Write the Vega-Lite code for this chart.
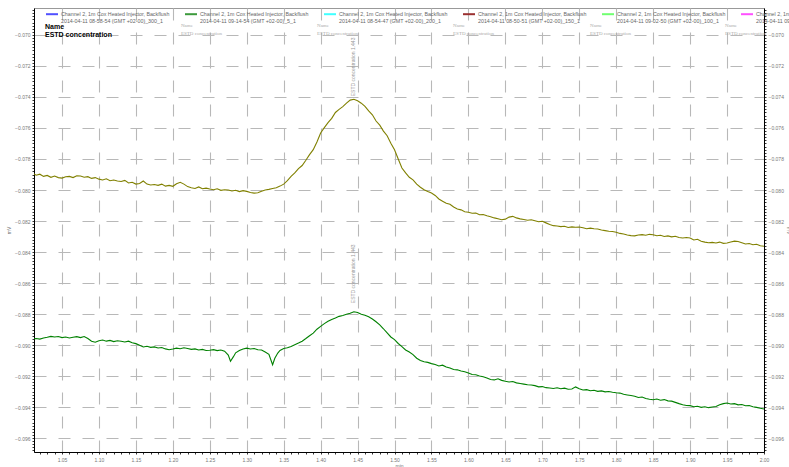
{
  "$schema": "https://vega.github.io/schema/vega-lite/v6.json",
  "width": 730,
  "height": 444,
  "autosize": {"type": "none"},
  "padding": {"left": 34, "top": 8, "right": 25, "bottom": 15},
  "background": "white",
  "config": {
    "view": {"stroke": "#999", "strokeWidth": 1},
    "font": "Liberation Sans",
    "axis": {
      "domainColor": "black",
      "domainWidth": 1,
      "tickColor": "black",
      "tickSize": 2,
      "tickWidth": 0.8,
      "labelFontSize": 5,
      "labelColor": "#777",
      "labelFont": "Liberation Sans",
      "titleFontSize": 5,
      "titleColor": "#777",
      "titleFontWeight": "normal",
      "gridColor": "#b8b8b8",
      "gridDash": [12, 12],
      "gridWidth": 1.1,
      "labelOverlap": false,
      "labelFlush": false
    }
  },
  "datasets": {
    "series": [
      {"t":1.010,"v":-0.07890,"s":"u"},{"t":1.015,"v":-0.07905,"s":"u"},{"t":1.020,"v":-0.07898,"s":"u"},{"t":1.025,"v":-0.07912,"s":"u"},{"t":1.030,"v":-0.07906,"s":"u"},{"t":1.035,"v":-0.07918,"s":"u"},{"t":1.040,"v":-0.07910,"s":"u"},{"t":1.045,"v":-0.07920,"s":"u"},{"t":1.050,"v":-0.07923,"s":"u"},{"t":1.055,"v":-0.07915,"s":"u"},{"t":1.060,"v":-0.07912,"s":"u"},{"t":1.065,"v":-0.07920,"s":"u"},{"t":1.070,"v":-0.07908,"s":"u"},{"t":1.075,"v":-0.07910,"s":"u"},{"t":1.080,"v":-0.07918,"s":"u"},{"t":1.085,"v":-0.07914,"s":"u"},{"t":1.090,"v":-0.07925,"s":"u"},{"t":1.095,"v":-0.07920,"s":"u"},{"t":1.100,"v":-0.07930,"s":"u"},{"t":1.105,"v":-0.07935,"s":"u"},{"t":1.110,"v":-0.07928,"s":"u"},{"t":1.115,"v":-0.07940,"s":"u"},{"t":1.120,"v":-0.07936,"s":"u"},{"t":1.125,"v":-0.07942,"s":"u"},{"t":1.130,"v":-0.07945,"s":"u"},{"t":1.135,"v":-0.07938,"s":"u"},{"t":1.140,"v":-0.07955,"s":"u"},{"t":1.145,"v":-0.07950,"s":"u"},{"t":1.150,"v":-0.07962,"s":"u"},{"t":1.155,"v":-0.07958,"s":"u"},{"t":1.160,"v":-0.07942,"s":"u"},{"t":1.165,"v":-0.07962,"s":"u"},{"t":1.170,"v":-0.07968,"s":"u"},{"t":1.175,"v":-0.07965,"s":"u"},{"t":1.180,"v":-0.07970,"s":"u"},{"t":1.185,"v":-0.07962,"s":"u"},{"t":1.190,"v":-0.07975,"s":"u"},{"t":1.195,"v":-0.07970,"s":"u"},{"t":1.200,"v":-0.07976,"s":"u"},{"t":1.205,"v":-0.07960,"s":"u"},{"t":1.210,"v":-0.07950,"s":"u"},{"t":1.215,"v":-0.07962,"s":"u"},{"t":1.220,"v":-0.07978,"s":"u"},{"t":1.225,"v":-0.07985,"s":"u"},{"t":1.230,"v":-0.07990,"s":"u"},{"t":1.235,"v":-0.07980,"s":"u"},{"t":1.240,"v":-0.07992,"s":"u"},{"t":1.245,"v":-0.07988,"s":"u"},{"t":1.250,"v":-0.07994,"s":"u"},{"t":1.255,"v":-0.07998,"s":"u"},{"t":1.260,"v":-0.07992,"s":"u"},{"t":1.265,"v":-0.08002,"s":"u"},{"t":1.270,"v":-0.07998,"s":"u"},{"t":1.275,"v":-0.08000,"s":"u"},{"t":1.280,"v":-0.08006,"s":"u"},{"t":1.285,"v":-0.08002,"s":"u"},{"t":1.290,"v":-0.08010,"s":"u"},{"t":1.295,"v":-0.08004,"s":"u"},{"t":1.300,"v":-0.08009,"s":"u"},{"t":1.305,"v":-0.08016,"s":"u"},{"t":1.310,"v":-0.08020,"s":"u"},{"t":1.315,"v":-0.08018,"s":"u"},{"t":1.320,"v":-0.08008,"s":"u"},{"t":1.325,"v":-0.08000,"s":"u"},{"t":1.330,"v":-0.07996,"s":"u"},{"t":1.335,"v":-0.07990,"s":"u"},{"t":1.340,"v":-0.07985,"s":"u"},{"t":1.345,"v":-0.07975,"s":"u"},{"t":1.350,"v":-0.07962,"s":"u"},{"t":1.355,"v":-0.07940,"s":"u"},{"t":1.360,"v":-0.07912,"s":"u"},{"t":1.365,"v":-0.07890,"s":"u"},{"t":1.370,"v":-0.07862,"s":"u"},{"t":1.375,"v":-0.07842,"s":"u"},{"t":1.380,"v":-0.07808,"s":"u"},{"t":1.385,"v":-0.07772,"s":"u"},{"t":1.390,"v":-0.07740,"s":"u"},{"t":1.395,"v":-0.07690,"s":"u"},{"t":1.400,"v":-0.07632,"s":"u"},{"t":1.405,"v":-0.07598,"s":"u"},{"t":1.410,"v":-0.07565,"s":"u"},{"t":1.415,"v":-0.07538,"s":"u"},{"t":1.420,"v":-0.07500,"s":"u"},{"t":1.425,"v":-0.07480,"s":"u"},{"t":1.430,"v":-0.07462,"s":"u"},{"t":1.435,"v":-0.07440,"s":"u"},{"t":1.440,"v":-0.07420,"s":"u"},{"t":1.445,"v":-0.07415,"s":"u"},{"t":1.450,"v":-0.07425,"s":"u"},{"t":1.455,"v":-0.07440,"s":"u"},{"t":1.460,"v":-0.07460,"s":"u"},{"t":1.465,"v":-0.07490,"s":"u"},{"t":1.470,"v":-0.07515,"s":"u"},{"t":1.475,"v":-0.07555,"s":"u"},{"t":1.480,"v":-0.07582,"s":"u"},{"t":1.485,"v":-0.07620,"s":"u"},{"t":1.490,"v":-0.07650,"s":"u"},{"t":1.495,"v":-0.07698,"s":"u"},{"t":1.500,"v":-0.07740,"s":"u"},{"t":1.505,"v":-0.07800,"s":"u"},{"t":1.510,"v":-0.07858,"s":"u"},{"t":1.515,"v":-0.07890,"s":"u"},{"t":1.520,"v":-0.07918,"s":"u"},{"t":1.525,"v":-0.07935,"s":"u"},{"t":1.530,"v":-0.07962,"s":"u"},{"t":1.535,"v":-0.07982,"s":"u"},{"t":1.540,"v":-0.07998,"s":"u"},{"t":1.545,"v":-0.08010,"s":"u"},{"t":1.550,"v":-0.08020,"s":"u"},{"t":1.555,"v":-0.08035,"s":"u"},{"t":1.560,"v":-0.08058,"s":"u"},{"t":1.565,"v":-0.08072,"s":"u"},{"t":1.570,"v":-0.08086,"s":"u"},{"t":1.575,"v":-0.08092,"s":"u"},{"t":1.580,"v":-0.08110,"s":"u"},{"t":1.585,"v":-0.08122,"s":"u"},{"t":1.590,"v":-0.08128,"s":"u"},{"t":1.595,"v":-0.08140,"s":"u"},{"t":1.600,"v":-0.08144,"s":"u"},{"t":1.605,"v":-0.08150,"s":"u"},{"t":1.610,"v":-0.08148,"s":"u"},{"t":1.615,"v":-0.08160,"s":"u"},{"t":1.620,"v":-0.08158,"s":"u"},{"t":1.625,"v":-0.08166,"s":"u"},{"t":1.630,"v":-0.08172,"s":"u"},{"t":1.635,"v":-0.08180,"s":"u"},{"t":1.640,"v":-0.08186,"s":"u"},{"t":1.645,"v":-0.08192,"s":"u"},{"t":1.650,"v":-0.08188,"s":"u"},{"t":1.655,"v":-0.08175,"s":"u"},{"t":1.660,"v":-0.08170,"s":"u"},{"t":1.665,"v":-0.08180,"s":"u"},{"t":1.670,"v":-0.08186,"s":"u"},{"t":1.675,"v":-0.08190,"s":"u"},{"t":1.680,"v":-0.08195,"s":"u"},{"t":1.685,"v":-0.08192,"s":"u"},{"t":1.690,"v":-0.08198,"s":"u"},{"t":1.695,"v":-0.08205,"s":"u"},{"t":1.700,"v":-0.08202,"s":"u"},{"t":1.705,"v":-0.08212,"s":"u"},{"t":1.710,"v":-0.08222,"s":"u"},{"t":1.715,"v":-0.08230,"s":"u"},{"t":1.720,"v":-0.08232,"s":"u"},{"t":1.725,"v":-0.08236,"s":"u"},{"t":1.730,"v":-0.08234,"s":"u"},{"t":1.735,"v":-0.08242,"s":"u"},{"t":1.740,"v":-0.08238,"s":"u"},{"t":1.745,"v":-0.08240,"s":"u"},{"t":1.750,"v":-0.08239,"s":"u"},{"t":1.755,"v":-0.08244,"s":"u"},{"t":1.760,"v":-0.08250,"s":"u"},{"t":1.765,"v":-0.08246,"s":"u"},{"t":1.770,"v":-0.08250,"s":"u"},{"t":1.775,"v":-0.08252,"s":"u"},{"t":1.780,"v":-0.08258,"s":"u"},{"t":1.785,"v":-0.08262,"s":"u"},{"t":1.790,"v":-0.08266,"s":"u"},{"t":1.795,"v":-0.08268,"s":"u"},{"t":1.800,"v":-0.08273,"s":"u"},{"t":1.805,"v":-0.08280,"s":"u"},{"t":1.810,"v":-0.08284,"s":"u"},{"t":1.815,"v":-0.08290,"s":"u"},{"t":1.820,"v":-0.08294,"s":"u"},{"t":1.825,"v":-0.08296,"s":"u"},{"t":1.830,"v":-0.08290,"s":"u"},{"t":1.835,"v":-0.08288,"s":"u"},{"t":1.840,"v":-0.08292,"s":"u"},{"t":1.845,"v":-0.08286,"s":"u"},{"t":1.850,"v":-0.08289,"s":"u"},{"t":1.855,"v":-0.08295,"s":"u"},{"t":1.860,"v":-0.08292,"s":"u"},{"t":1.865,"v":-0.08300,"s":"u"},{"t":1.870,"v":-0.08296,"s":"u"},{"t":1.875,"v":-0.08302,"s":"u"},{"t":1.880,"v":-0.08298,"s":"u"},{"t":1.885,"v":-0.08306,"s":"u"},{"t":1.890,"v":-0.08310,"s":"u"},{"t":1.895,"v":-0.08306,"s":"u"},{"t":1.900,"v":-0.08310,"s":"u"},{"t":1.905,"v":-0.08322,"s":"u"},{"t":1.910,"v":-0.08318,"s":"u"},{"t":1.915,"v":-0.08330,"s":"u"},{"t":1.920,"v":-0.08336,"s":"u"},{"t":1.925,"v":-0.08340,"s":"u"},{"t":1.930,"v":-0.08338,"s":"u"},{"t":1.935,"v":-0.08342,"s":"u"},{"t":1.940,"v":-0.08336,"s":"u"},{"t":1.945,"v":-0.08344,"s":"u"},{"t":1.950,"v":-0.08342,"s":"u"},{"t":1.955,"v":-0.08335,"s":"u"},{"t":1.960,"v":-0.08330,"s":"u"},{"t":1.965,"v":-0.08332,"s":"u"},{"t":1.970,"v":-0.08340,"s":"u"},{"t":1.975,"v":-0.08348,"s":"u"},{"t":1.980,"v":-0.08345,"s":"u"},{"t":1.985,"v":-0.08353,"s":"u"},{"t":1.990,"v":-0.08350,"s":"u"},{"t":1.995,"v":-0.08360,"s":"u"},{"t":2.000,"v":-0.08363,"s":"u"},
      {"t":1.010,"v":-0.08961,"s":"l"},{"t":1.015,"v":-0.08958,"s":"l"},{"t":1.020,"v":-0.08962,"s":"l"},{"t":1.025,"v":-0.08955,"s":"l"},{"t":1.030,"v":-0.08950,"s":"l"},{"t":1.035,"v":-0.08944,"s":"l"},{"t":1.040,"v":-0.08948,"s":"l"},{"t":1.045,"v":-0.08945,"s":"l"},{"t":1.050,"v":-0.08952,"s":"l"},{"t":1.055,"v":-0.08948,"s":"l"},{"t":1.060,"v":-0.08955,"s":"l"},{"t":1.065,"v":-0.08950,"s":"l"},{"t":1.070,"v":-0.08946,"s":"l"},{"t":1.075,"v":-0.08952,"s":"l"},{"t":1.080,"v":-0.08945,"s":"l"},{"t":1.085,"v":-0.08958,"s":"l"},{"t":1.090,"v":-0.08975,"s":"l"},{"t":1.095,"v":-0.08982,"s":"l"},{"t":1.100,"v":-0.08972,"s":"l"},{"t":1.105,"v":-0.08968,"s":"l"},{"t":1.110,"v":-0.08975,"s":"l"},{"t":1.115,"v":-0.08970,"s":"l"},{"t":1.120,"v":-0.08978,"s":"l"},{"t":1.125,"v":-0.08972,"s":"l"},{"t":1.130,"v":-0.08976,"s":"l"},{"t":1.135,"v":-0.08980,"s":"l"},{"t":1.140,"v":-0.08975,"s":"l"},{"t":1.145,"v":-0.08985,"s":"l"},{"t":1.150,"v":-0.08991,"s":"l"},{"t":1.155,"v":-0.09002,"s":"l"},{"t":1.160,"v":-0.09013,"s":"l"},{"t":1.165,"v":-0.09008,"s":"l"},{"t":1.170,"v":-0.09015,"s":"l"},{"t":1.175,"v":-0.09012,"s":"l"},{"t":1.180,"v":-0.09019,"s":"l"},{"t":1.185,"v":-0.09016,"s":"l"},{"t":1.190,"v":-0.09025,"s":"l"},{"t":1.195,"v":-0.09030,"s":"l"},{"t":1.200,"v":-0.09026,"s":"l"},{"t":1.205,"v":-0.09020,"s":"l"},{"t":1.210,"v":-0.09024,"s":"l"},{"t":1.215,"v":-0.09018,"s":"l"},{"t":1.220,"v":-0.09022,"s":"l"},{"t":1.225,"v":-0.09028,"s":"l"},{"t":1.230,"v":-0.09025,"s":"l"},{"t":1.235,"v":-0.09032,"s":"l"},{"t":1.240,"v":-0.09028,"s":"l"},{"t":1.245,"v":-0.09035,"s":"l"},{"t":1.250,"v":-0.09034,"s":"l"},{"t":1.255,"v":-0.09030,"s":"l"},{"t":1.260,"v":-0.09036,"s":"l"},{"t":1.265,"v":-0.09032,"s":"l"},{"t":1.270,"v":-0.09040,"s":"l"},{"t":1.275,"v":-0.09065,"s":"l"},{"t":1.278,"v":-0.09105,"s":"l"},{"t":1.282,"v":-0.09075,"s":"l"},{"t":1.285,"v":-0.09050,"s":"l"},{"t":1.290,"v":-0.09036,"s":"l"},{"t":1.295,"v":-0.09025,"s":"l"},{"t":1.300,"v":-0.09020,"s":"l"},{"t":1.305,"v":-0.09026,"s":"l"},{"t":1.310,"v":-0.09022,"s":"l"},{"t":1.315,"v":-0.09030,"s":"l"},{"t":1.320,"v":-0.09032,"s":"l"},{"t":1.325,"v":-0.09045,"s":"l"},{"t":1.330,"v":-0.09060,"s":"l"},{"t":1.335,"v":-0.09127,"s":"l"},{"t":1.338,"v":-0.09085,"s":"l"},{"t":1.342,"v":-0.09052,"s":"l"},{"t":1.345,"v":-0.09035,"s":"l"},{"t":1.350,"v":-0.09022,"s":"l"},{"t":1.355,"v":-0.09018,"s":"l"},{"t":1.360,"v":-0.09010,"s":"l"},{"t":1.365,"v":-0.08998,"s":"l"},{"t":1.370,"v":-0.08987,"s":"l"},{"t":1.375,"v":-0.08975,"s":"l"},{"t":1.380,"v":-0.08958,"s":"l"},{"t":1.385,"v":-0.08940,"s":"l"},{"t":1.390,"v":-0.08923,"s":"l"},{"t":1.395,"v":-0.08898,"s":"l"},{"t":1.400,"v":-0.08880,"s":"l"},{"t":1.405,"v":-0.08862,"s":"l"},{"t":1.410,"v":-0.08847,"s":"l"},{"t":1.415,"v":-0.08835,"s":"l"},{"t":1.420,"v":-0.08826,"s":"l"},{"t":1.425,"v":-0.08815,"s":"l"},{"t":1.430,"v":-0.08810,"s":"l"},{"t":1.435,"v":-0.08802,"s":"l"},{"t":1.440,"v":-0.08795,"s":"l"},{"t":1.445,"v":-0.08785,"s":"l"},{"t":1.450,"v":-0.08790,"s":"l"},{"t":1.455,"v":-0.08802,"s":"l"},{"t":1.460,"v":-0.08808,"s":"l"},{"t":1.465,"v":-0.08818,"s":"l"},{"t":1.470,"v":-0.08832,"s":"l"},{"t":1.475,"v":-0.08850,"s":"l"},{"t":1.480,"v":-0.08870,"s":"l"},{"t":1.485,"v":-0.08895,"s":"l"},{"t":1.490,"v":-0.08922,"s":"l"},{"t":1.495,"v":-0.08948,"s":"l"},{"t":1.500,"v":-0.08965,"s":"l"},{"t":1.505,"v":-0.08990,"s":"l"},{"t":1.510,"v":-0.09010,"s":"l"},{"t":1.515,"v":-0.09032,"s":"l"},{"t":1.520,"v":-0.09045,"s":"l"},{"t":1.525,"v":-0.09062,"s":"l"},{"t":1.530,"v":-0.09085,"s":"l"},{"t":1.535,"v":-0.09100,"s":"l"},{"t":1.540,"v":-0.09108,"s":"l"},{"t":1.545,"v":-0.09112,"s":"l"},{"t":1.550,"v":-0.09120,"s":"l"},{"t":1.555,"v":-0.09126,"s":"l"},{"t":1.560,"v":-0.09135,"s":"l"},{"t":1.565,"v":-0.09130,"s":"l"},{"t":1.570,"v":-0.09142,"s":"l"},{"t":1.575,"v":-0.09148,"s":"l"},{"t":1.580,"v":-0.09158,"s":"l"},{"t":1.585,"v":-0.09160,"s":"l"},{"t":1.590,"v":-0.09168,"s":"l"},{"t":1.595,"v":-0.09172,"s":"l"},{"t":1.600,"v":-0.09180,"s":"l"},{"t":1.605,"v":-0.09190,"s":"l"},{"t":1.610,"v":-0.09192,"s":"l"},{"t":1.615,"v":-0.09200,"s":"l"},{"t":1.620,"v":-0.09205,"s":"l"},{"t":1.625,"v":-0.09212,"s":"l"},{"t":1.630,"v":-0.09222,"s":"l"},{"t":1.635,"v":-0.09225,"s":"l"},{"t":1.640,"v":-0.09218,"s":"l"},{"t":1.645,"v":-0.09228,"s":"l"},{"t":1.650,"v":-0.09234,"s":"l"},{"t":1.655,"v":-0.09238,"s":"l"},{"t":1.660,"v":-0.09235,"s":"l"},{"t":1.665,"v":-0.09244,"s":"l"},{"t":1.670,"v":-0.09248,"s":"l"},{"t":1.675,"v":-0.09252,"s":"l"},{"t":1.680,"v":-0.09256,"s":"l"},{"t":1.685,"v":-0.09258,"s":"l"},{"t":1.690,"v":-0.09262,"s":"l"},{"t":1.695,"v":-0.09270,"s":"l"},{"t":1.700,"v":-0.09268,"s":"l"},{"t":1.705,"v":-0.09275,"s":"l"},{"t":1.710,"v":-0.09277,"s":"l"},{"t":1.715,"v":-0.09280,"s":"l"},{"t":1.720,"v":-0.09276,"s":"l"},{"t":1.725,"v":-0.09282,"s":"l"},{"t":1.730,"v":-0.09278,"s":"l"},{"t":1.735,"v":-0.09285,"s":"l"},{"t":1.740,"v":-0.09284,"s":"l"},{"t":1.745,"v":-0.09270,"s":"l"},{"t":1.750,"v":-0.09282,"s":"l"},{"t":1.755,"v":-0.09290,"s":"l"},{"t":1.760,"v":-0.09288,"s":"l"},{"t":1.765,"v":-0.09295,"s":"l"},{"t":1.770,"v":-0.09292,"s":"l"},{"t":1.775,"v":-0.09299,"s":"l"},{"t":1.780,"v":-0.09296,"s":"l"},{"t":1.785,"v":-0.09302,"s":"l"},{"t":1.790,"v":-0.09300,"s":"l"},{"t":1.795,"v":-0.09305,"s":"l"},{"t":1.800,"v":-0.09308,"s":"l"},{"t":1.805,"v":-0.09310,"s":"l"},{"t":1.810,"v":-0.09318,"s":"l"},{"t":1.815,"v":-0.09322,"s":"l"},{"t":1.820,"v":-0.09326,"s":"l"},{"t":1.825,"v":-0.09330,"s":"l"},{"t":1.830,"v":-0.09338,"s":"l"},{"t":1.835,"v":-0.09335,"s":"l"},{"t":1.840,"v":-0.09345,"s":"l"},{"t":1.845,"v":-0.09350,"s":"l"},{"t":1.850,"v":-0.09353,"s":"l"},{"t":1.855,"v":-0.09348,"s":"l"},{"t":1.860,"v":-0.09356,"s":"l"},{"t":1.865,"v":-0.09352,"s":"l"},{"t":1.870,"v":-0.09360,"s":"l"},{"t":1.875,"v":-0.09362,"s":"l"},{"t":1.880,"v":-0.09370,"s":"l"},{"t":1.885,"v":-0.09378,"s":"l"},{"t":1.890,"v":-0.09385,"s":"l"},{"t":1.895,"v":-0.09390,"s":"l"},{"t":1.900,"v":-0.09391,"s":"l"},{"t":1.905,"v":-0.09398,"s":"l"},{"t":1.910,"v":-0.09395,"s":"l"},{"t":1.915,"v":-0.09402,"s":"l"},{"t":1.920,"v":-0.09398,"s":"l"},{"t":1.925,"v":-0.09404,"s":"l"},{"t":1.930,"v":-0.09400,"s":"l"},{"t":1.935,"v":-0.09396,"s":"l"},{"t":1.940,"v":-0.09385,"s":"l"},{"t":1.945,"v":-0.09378,"s":"l"},{"t":1.950,"v":-0.09374,"s":"l"},{"t":1.955,"v":-0.09380,"s":"l"},{"t":1.960,"v":-0.09378,"s":"l"},{"t":1.965,"v":-0.09386,"s":"l"},{"t":1.970,"v":-0.09384,"s":"l"},{"t":1.975,"v":-0.09392,"s":"l"},{"t":1.980,"v":-0.09390,"s":"l"},{"t":1.985,"v":-0.09398,"s":"l"},{"t":1.990,"v":-0.09402,"s":"l"},{"t":1.995,"v":-0.09408,"s":"l"},{"t":2.000,"v":-0.09413,"s":"l"}
    ],
    "names": [
      {"t":1.2110,"v":-0.06935,"txt":"Name"},{"t":1.2110,"v":-0.06987,"txt":"ESTD concentration"},
      {"t":1.3951,"v":-0.06935,"txt":"Name"},{"t":1.3951,"v":-0.06987,"txt":"ESTD concentration"},
      {"t":1.5792,"v":-0.06935,"txt":"Name"},{"t":1.5792,"v":-0.06987,"txt":"ESTD concentration"},
      {"t":1.7646,"v":-0.06935,"txt":"Name"},{"t":1.7646,"v":-0.06987,"txt":"ESTD concentration"},
      {"t":1.9473,"v":-0.06935,"txt":"Name"},{"t":1.9473,"v":-0.06987,"txt":"ESTD concentration"}
    ],
    "bold": [
      {"t":1.0270,"v":-0.06948,"txt":"Name"},{"t":1.0270,"v":-0.07000,"txt":"ESTD concentration"}
    ],
    "peaks": [
      {"t":1.4440,"v":-0.07395,"txt":"ESTD concentration 1.443"},
      {"t":1.4440,"v":-0.08730,"txt":"ESTD concentration 1.443"}
    ]
  },
  "resolve": {"scale": {"y": "independent"}},
  "layer": [
    {
      "layer": [
        {
          "data": {"name": "series"},
          "mark": {"type": "line", "strokeWidth": 1.1, "clip": true},
          "encoding": {
            "x": {
              "field": "t", "type": "quantitative",
              "scale": {"domain": [1.0121, 2.0], "nice": false, "zero": false},
              "axis": {
                "orient": "bottom",
                "title": "min",
                "titleFontSize": 5,
                "titlePadding": 1,
                "tickCount": 99,
                "labelPadding": 3,
                "labelExpr": "abs(datum.value*20 - round(datum.value*20)) < 0.01 ? format(datum.value, '.2f') : ''",
                "gridOpacity": {"condition": {"test": "abs(datum.value*20 - round(datum.value*20)) < 0.01", "value": 1}, "value": 0}
              }
            },
            "y": {
              "field": "v", "type": "quantitative",
              "scale": {"domain": [-0.0969, -0.06826], "nice": false, "zero": false},
              "axis": {
                "orient": "left",
                "title": "mV",
                "titlePadding": 3,
                "tickCount": 143,
                "labelPadding": 2,
                "labelExpr": "abs(datum.value/0.002 - round(datum.value/0.002)) < 0.01 ? format(datum.value, '.3f') : ''",
                "gridOpacity": {"condition": {"test": "abs(datum.value/0.002 - round(datum.value/0.002)) < 0.01", "value": 1}, "value": 0}
              }
            },
            "color": {
              "field": "s", "type": "nominal",
              "scale": {
                "domain": [
                  "Channel 2, 1m Cox Heated Injector, Backflush|2014-04-11 08-58-54 (GMT +02-00)_300_1",
                  "Channel 2, 1m Cox Heated Injector, Backflush|2014-04-11 09-14-54 (GMT +02-00)_5_1",
                  "Channel 2, 1m Cox Heated Injector, Backflush|2014-04-11 08-54-47 (GMT +02-00)_200_1",
                  "Channel 2, 1m Cox Heated Injector, Backflush|2014-04-11 08-50-51 (GMT +02-00)_150_1",
                  "Channel 2, 1m Cox Heated Injector, Backflush|2014-04-11 09-02-50 (GMT +02-00)_100_1",
                  "Channel 2, 1m Cox Heated Injector, Backflush|2014-04-11 09-06-51 (GMT +02-00)_50_1",
                  "u", "l"
                ],
                "range": ["#5050ff", "#3c9a3c", "#40ffff", "#9a3030", "#70ff70", "#ff50ff", "#808000", "#008000"]
              },
              "legend": {
                "values": [
                  "Channel 2, 1m Cox Heated Injector, Backflush|2014-04-11 08-58-54 (GMT +02-00)_300_1",
                  "Channel 2, 1m Cox Heated Injector, Backflush|2014-04-11 09-14-54 (GMT +02-00)_5_1",
                  "Channel 2, 1m Cox Heated Injector, Backflush|2014-04-11 08-54-47 (GMT +02-00)_200_1",
                  "Channel 2, 1m Cox Heated Injector, Backflush|2014-04-11 08-50-51 (GMT +02-00)_150_1",
                  "Channel 2, 1m Cox Heated Injector, Backflush|2014-04-11 09-02-50 (GMT +02-00)_100_1",
                  "Channel 2, 1m Cox Heated Injector, Backflush|2014-04-11 09-06-51 (GMT +02-00)_50_1"
                ],
                "title": null,
                "orient": "none",
                "legendX": 11,
                "legendY": -1,
                "direction": "horizontal",
                "columns": 6,
                "gridAlign": "all",
                "columnPadding": 11,
                "symbolType": "stroke",
                "symbolSize": 144,
                "symbolStrokeWidth": 2,
                "labelExpr": "split(datum.label, '|')",
                "labelFont": "Liberation Sans",
                "labelFontSize": 5.3,
                "labelColor": "#666",
                "labelOffset": 2,
                "labelLimit": 300
              }
            }
          }
        },
        {
          "data": {"name": "peaks"},
          "mark": {"type": "text", "angle": 270, "align": "left", "baseline": "middle", "fontSize": 5, "color": "#999", "font": "Liberation Sans"},
          "encoding": {
            "x": {"field": "t", "type": "quantitative"},
            "y": {"field": "v", "type": "quantitative"},
            "text": {"field": "txt"}
          }
        },
        {
          "data": {"name": "names"},
          "mark": {"type": "text", "align": "left", "baseline": "middle", "fontSize": 5, "color": "#aaa", "font": "Liberation Serif"},
          "encoding": {
            "x": {"field": "t", "type": "quantitative"},
            "y": {"field": "v", "type": "quantitative"},
            "text": {"field": "txt"}
          }
        },
        {
          "data": {"name": "bold"},
          "mark": {"type": "text", "align": "left", "baseline": "middle", "fontSize": 7, "fontWeight": "bold", "color": "black", "font": "Liberation Sans"},
          "encoding": {
            "x": {"field": "t", "type": "quantitative"},
            "y": {"field": "v", "type": "quantitative"},
            "text": {"field": "txt"}
          }
        }
      ]
    },
    {
      "data": {"name": "series"},
      "mark": {"type": "line", "opacity": 0},
      "encoding": {
        "x": {"field": "t", "type": "quantitative"},
        "y": {
          "field": "v", "type": "quantitative",
          "scale": {"domain": [-0.0969, -0.06826], "nice": false, "zero": false},
          "axis": {
            "orient": "right",
            "title": "mV",
            "titlePadding": 2,
            "tickCount": 143,
            "labelPadding": 2,
            "grid": false,
            "labelExpr": "abs(datum.value/0.002 - round(datum.value/0.002)) < 0.01 ? format(datum.value, '.3f') : ''"
          }
        },
        "detail": {"field": "s"}
      }
    }
  ]
}
